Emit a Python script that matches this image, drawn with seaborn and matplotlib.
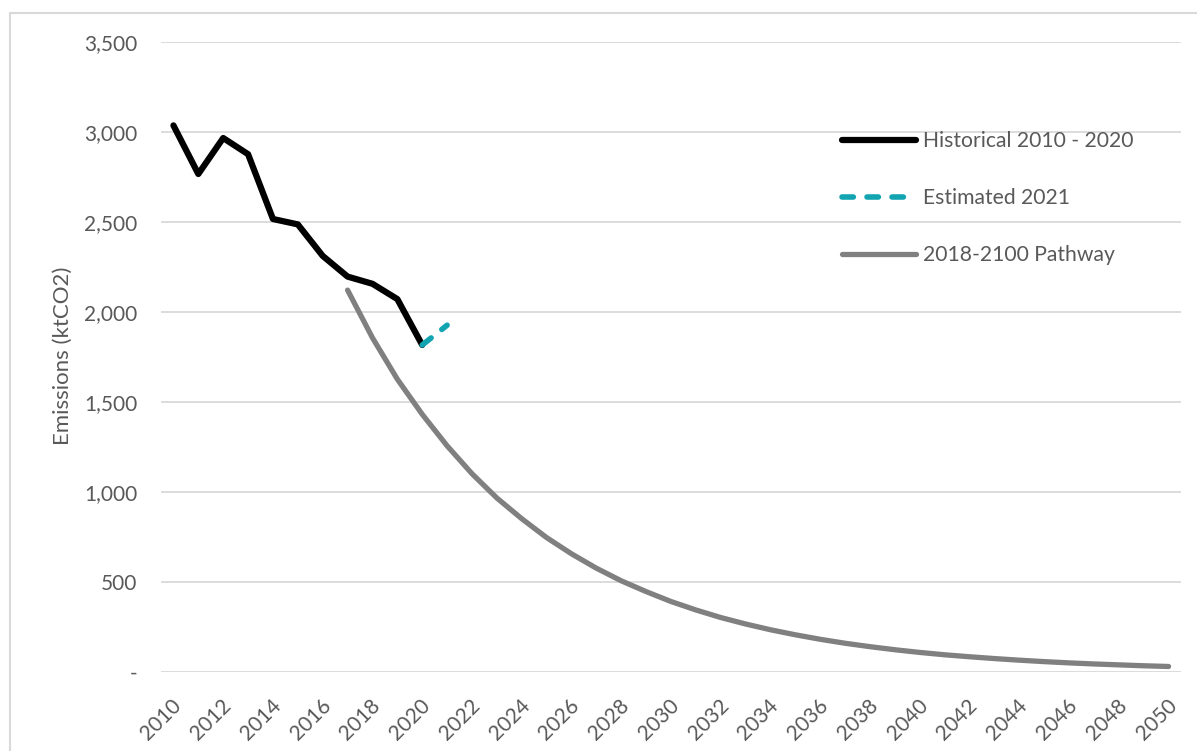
import pandas as pd
import numpy as np
import matplotlib.pyplot as plt
import seaborn as sns
from matplotlib.patches import Rectangle
from matplotlib.transforms import ScaledTranslation

sns.set_theme(style="white")
plt.rcParams['font.family'] = ['Lato', 'DejaVu Sans']
plt.rcParams['lines.scale_dashes'] = False

TEXT = '#595959'
GRID = '#D9D9D9'

# Historical emissions (ktCO2)
hist_years = list(range(2010, 2021))
hist_values = [3035, 2765, 2965, 2875, 2515, 2485, 2310, 2195, 2155, 2070, 1815]

# Estimate for 2021
est_years = [2020, 2021]
est_values = [1815, 1925]

# Pathway 2017-2050
path_years = list(range(2017, 2051))
path_values = [2120, 1855, 1625, 1430, 1255, 1100, 965, 850, 745, 655,
               575, 505, 445, 390, 343, 301, 265, 233, 205, 180,
               158, 139, 122, 107, 94, 83, 73, 64, 56, 49,
               43, 38, 33, 29]

x_ticks = list(range(2010, 2051, 2))
y_ticks = list(range(0, 3501, 500))

hist_df = pd.DataFrame({'Year': hist_years, 'Emissions': hist_values})
est_df = pd.DataFrame({'Year': est_years, 'Emissions': est_values})
path_df = pd.DataFrame({'Year': path_years, 'Emissions': path_values})

W, H = 1197, 751
fig = plt.figure(figsize=(W / 100, H / 100), dpi=100)
ax = fig.add_axes([161 / W, 1 - 671.7 / H, (1181 - 161) / W, (671.7 - 41.7) / H])

# chart border (Excel style)
fig.patches.append(Rectangle((10 / W, -0.05), 1.2, 1 - 13 / H + 0.05, transform=fig.transFigure,
                             fill=False, edgecolor=GRID, linewidth=1.5, zorder=0))

sns.lineplot(data=hist_df, x='Year', y='Emissions', ax=ax, color='black', linewidth=4.5,
             label='Historical 2010 - 2020', solid_capstyle='round', solid_joinstyle='round')
sns.lineplot(data=est_df, x='Year', y='Emissions', ax=ax, color='#12A5B1', linewidth=4,
             label='Estimated 2021', dash_capstyle='round')
sns.lineplot(data=path_df, x='Year', y='Emissions', ax=ax, color='#808080', linewidth=3.8,
             label='2018-2100 Pathway', solid_capstyle='round', solid_joinstyle='round')
ax.lines[1].set_dashes((8.2, 9.8))

ax.set_xlim(2009.5, 2050.5)
ax.set_ylim(0, 3500)
ax.set_xticks(x_ticks)
ax.set_yticks(y_ticks)
ax.set_xticklabels([str(y) for y in x_ticks], rotation=45, ha='right', va='center',
                   rotation_mode='anchor', fontsize=15, color=TEXT)
ax.set_yticklabels(['-' if v == 0 else f'{v:,}' for v in y_ticks], fontsize=15, color=TEXT)
ax.tick_params(axis='x', length=0, pad=22)
ax.tick_params(axis='y', length=0, pad=17)
shift = ScaledTranslation(5 / 100, 0, fig.dpi_scale_trans)
for lbl in ax.get_xticklabels():
    lbl.set_transform(lbl.get_transform() + shift)
ax.grid(axis='y', color=GRID, linewidth=1.3)
ax.set_axisbelow(True)
for s in ax.spines.values():
    s.set_visible(False)
ax.set_xlabel('')
ax.set_ylabel('')
fig.text(63 / W, 1 - 356 / H, 'Emissions (ktCO2)', rotation=90, ha='center', va='center',
         fontsize=16, color=TEXT)

leg = ax.legend(loc='upper left', bbox_to_anchor=(842 / W, 1 - 131 / H), bbox_transform=fig.transFigure,
                frameon=False, fontsize=15.2, handlelength=3.5, handletextpad=0.35,
                labelspacing=1.75, borderpad=0, borderaxespad=0)
for t in leg.get_texts():
    t.set_color(TEXT)

fig.savefig('out.png', dpi=100)
